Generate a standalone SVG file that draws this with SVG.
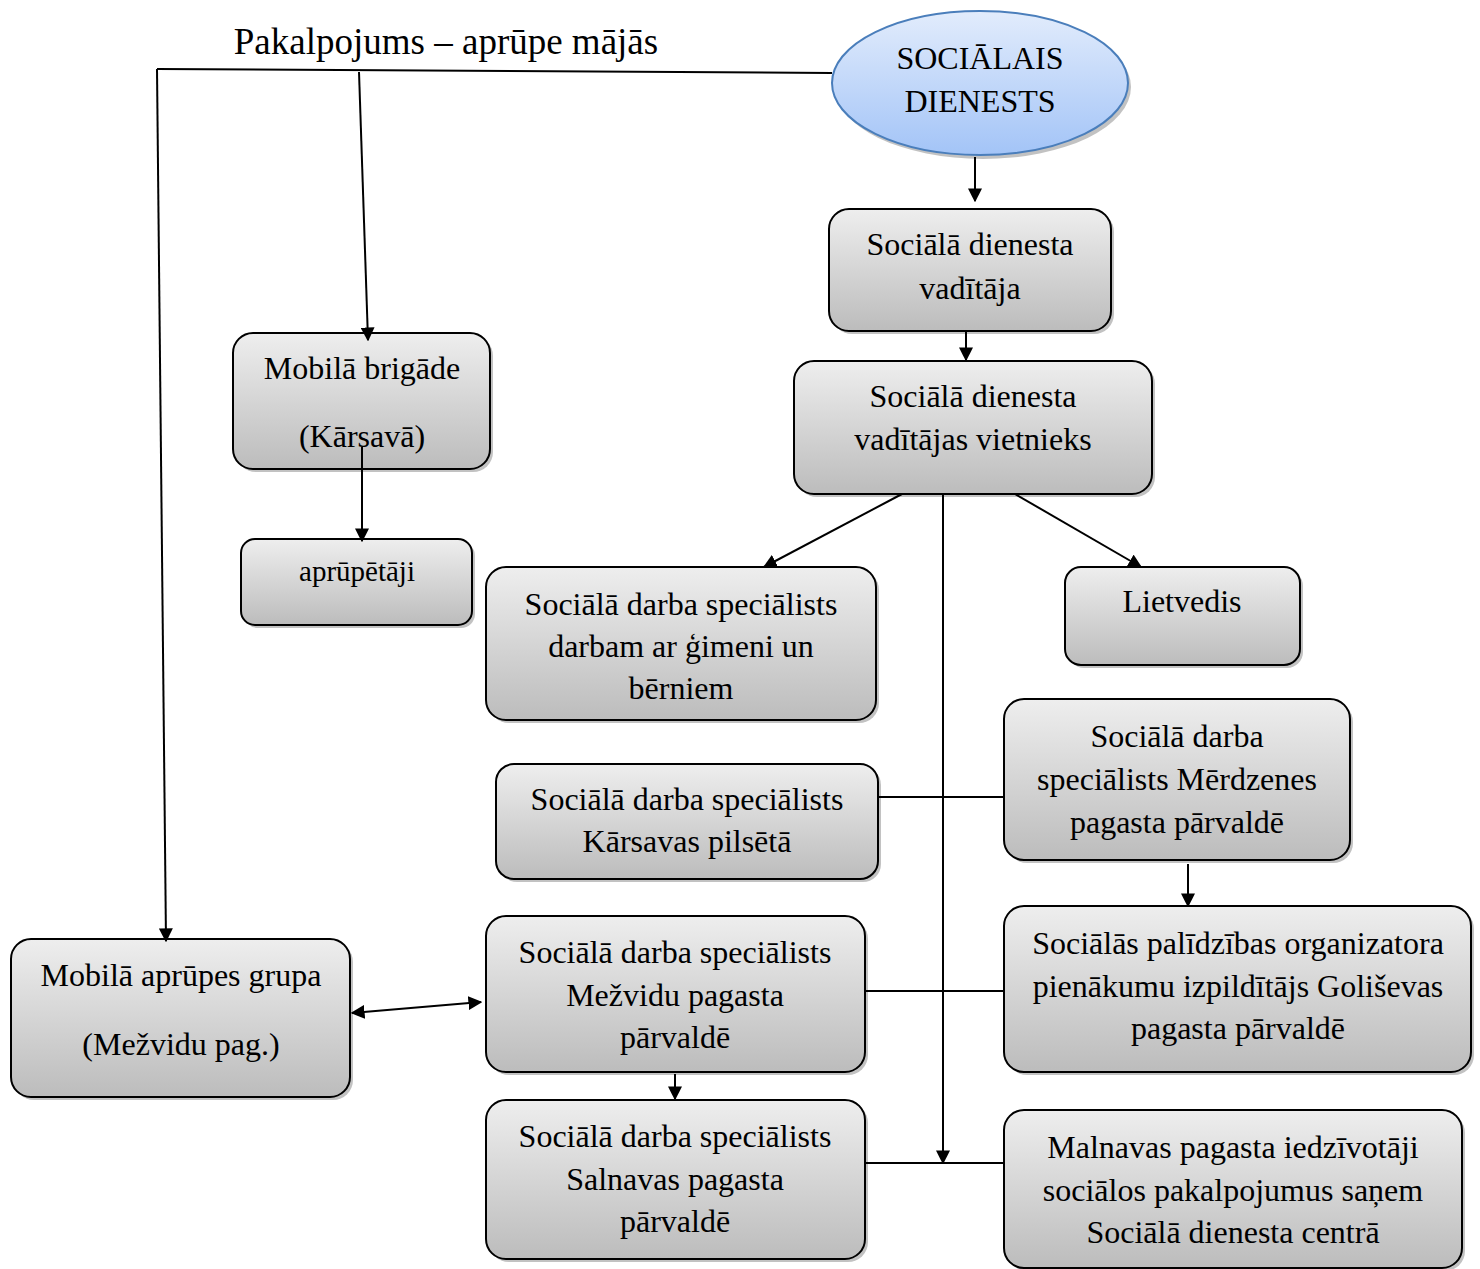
<svg xmlns="http://www.w3.org/2000/svg" width="1480" height="1269" viewBox="0 0 1480 1269">
<defs>
<linearGradient id="g" x1="0" y1="0" x2="0" y2="1"><stop offset="0" stop-color="#eeeeee"/><stop offset="1" stop-color="#bcbcbc"/></linearGradient>
<linearGradient id="b" x1="0" y1="0" x2="0" y2="1"><stop offset="0" stop-color="#e2ecfc"/><stop offset="1" stop-color="#a3c4f7"/></linearGradient>
<marker id="a" viewBox="0 0 10 10" refX="9" refY="5" markerWidth="14" markerHeight="14" markerUnits="userSpaceOnUse" orient="auto-start-reverse"><path d="M0,0 L10,5 L0,10 z" fill="#000"/></marker>
</defs>
<style>
.n rect.s{fill:#9a9a9a;opacity:.6}
.n rect.f{fill:url(#g);stroke:#000;stroke-width:2}
text{font-family:"Liberation Serif","Times New Roman",serif;font-size:32px;fill:#000;text-anchor:middle}
text.t{font-size:37px}
text.sm{font-size:29px}
.c line{stroke:#000;stroke-width:2;fill:none}
.c .ar{marker-end:url(#a)}
</style>
<rect width="1480" height="1269" fill="#fff"/>
<text class="t" x="446" y="54">Pakalpojums – aprūpe mājās</text>

<g id="sd" class="n">
<ellipse cx="983" cy="87" rx="148" ry="72" fill="#999" opacity=".6"/>
<ellipse cx="980" cy="83" rx="148" ry="72" fill="url(#b)" stroke="#4a7ebb" stroke-width="2"/>
<text x="980" y="69">SOCIĀLAIS</text>
<text x="980" y="112">DIENESTS</text>
</g>

<g id="vad" class="n"><rect class="s" x="832" y="212" width="282" height="122" rx="20"/><rect class="f" x="829" y="209" width="282" height="122" rx="20"/>
<text x="970" y="255">Sociālā dienesta</text><text x="970" y="299">vadītāja</text></g>

<g id="viet" class="n"><rect class="s" x="797" y="364" width="358" height="133" rx="20"/><rect class="f" x="794" y="361" width="358" height="133" rx="20"/>
<text x="973" y="407">Sociālā dienesta</text><text x="973" y="450">vadītājas vietnieks</text></g>

<g id="mb" class="n"><rect class="s" x="236" y="336" width="257" height="136" rx="20"/><rect class="f" x="233" y="333" width="257" height="136" rx="20"/>
<text x="362" y="379">Mobilā brigāde</text><text x="362" y="447">(Kārsavā)</text></g>

<g id="apr" class="n"><rect class="s" x="244" y="542" width="231" height="86" rx="14"/><rect class="f" x="241" y="539" width="231" height="86" rx="14"/>
<text class="sm" x="357" y="581">aprūpētāji</text></g>

<g id="gim" class="n"><rect class="s" x="489" y="570" width="390" height="153" rx="20"/><rect class="f" x="486" y="567" width="390" height="153" rx="20"/>
<text x="681" y="615">Sociālā darba speciālists</text><text x="681" y="657">darbam ar ģimeni un</text><text x="681" y="699">bērniem</text></g>

<g id="liet" class="n"><rect class="s" x="1068" y="570" width="235" height="98" rx="16"/><rect class="f" x="1065" y="567" width="235" height="98" rx="16"/>
<text x="1182" y="612">Lietvedis</text></g>

<g id="merd" class="n"><rect class="s" x="1007" y="702" width="346" height="161" rx="20"/><rect class="f" x="1004" y="699" width="346" height="161" rx="20"/>
<text x="1177" y="747">Sociālā darba</text><text x="1177" y="790">speciālists Mērdzenes</text><text x="1177" y="833">pagasta pārvaldē</text></g>

<g id="kars" class="n"><rect class="s" x="499" y="767" width="382" height="115" rx="18"/><rect class="f" x="496" y="764" width="382" height="115" rx="18"/>
<text x="687" y="810">Sociālā darba speciālists</text><text x="687" y="852">Kārsavas pilsētā</text></g>

<g id="gol" class="n"><rect class="s" x="1007" y="909" width="467" height="166" rx="20"/><rect class="f" x="1004" y="906" width="467" height="166" rx="20"/>
<text x="1238" y="954">Sociālās palīdzības organizatora</text><text x="1238" y="997">pienākumu izpildītājs Goliševas</text><text x="1238" y="1039">pagasta pārvaldē</text></g>

<g id="mez" class="n"><rect class="s" x="489" y="919" width="379" height="156" rx="20"/><rect class="f" x="486" y="916" width="379" height="156" rx="20"/>
<text x="675" y="963">Sociālā darba speciālists</text><text x="675" y="1006">Mežvidu pagasta</text><text x="675" y="1048">pārvaldē</text></g>

<g id="mag" class="n"><rect class="s" x="14" y="942" width="339" height="158" rx="20"/><rect class="f" x="11" y="939" width="339" height="158" rx="20"/>
<text x="181" y="986">Mobilā aprūpes grupa</text><text x="181" y="1055">(Mežvidu pag.)</text></g>

<g id="sal" class="n"><rect class="s" x="489" y="1103" width="379" height="159" rx="20"/><rect class="f" x="486" y="1100" width="379" height="159" rx="20"/>
<text x="675" y="1147">Sociālā darba speciālists</text><text x="675" y="1190">Salnavas pagasta</text><text x="675" y="1232">pārvaldē</text></g>

<g id="maln" class="n"><rect class="s" x="1007" y="1113" width="458" height="158" rx="20"/><rect class="f" x="1004" y="1110" width="458" height="158" rx="20"/>
<text x="1233" y="1158">Malnavas pagasta iedzīvotāji</text><text x="1233" y="1201">sociālos pakalpojumus saņem</text><text x="1233" y="1243">Sociālā dienesta centrā</text></g>

<g id="connectors" class="c">
<line x1="832" y1="73" x2="157" y2="69"/>
<line class="ar" x1="157" y1="69" x2="166" y2="941"/>
<line class="ar" x1="359" y1="72" x2="368" y2="340"/>
<line class="ar" x1="975" y1="157" x2="975" y2="201"/>
<line class="ar" x1="966" y1="331" x2="966" y2="360"/>
<line class="ar" x1="902" y1="494" x2="764" y2="567"/>
<line class="ar" x1="1015" y1="494" x2="1141" y2="567"/>
<line class="ar" x1="943" y1="494" x2="943" y2="1163"/>
<line x1="878" y1="797" x2="1004" y2="797"/>
<line class="ar" x1="1188" y1="864" x2="1188" y2="906"/>
<line x1="865" y1="991" x2="1004" y2="991"/>
<line class="ar" x1="352" y1="1013" x2="481" y2="1002" marker-start="url(#a)"/>
<line class="ar" x1="675" y1="1074" x2="675" y2="1099"/>
<line x1="865" y1="1163" x2="1004" y2="1163"/>
<line class="ar" x1="362" y1="447" x2="362" y2="541"/>
</g>
</svg>
